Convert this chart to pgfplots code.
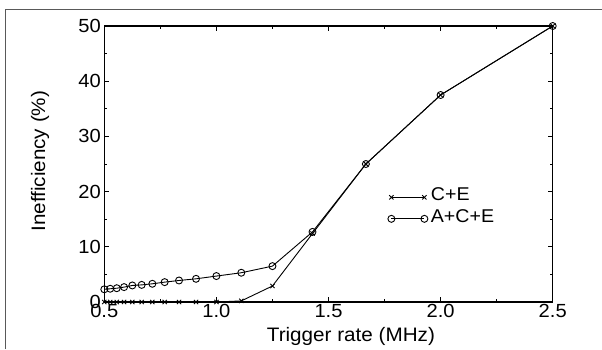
\documentclass[border=0pt]{standalone}
\usepackage{pgfplots}
\pgfplotsset{compat=1.18}
\usepackage{fontspec}
\setmainfont{Liberation Sans}[FakeStretch=1.06]

\begin{document}
\begin{tikzpicture}[x=1pt,y=1pt]
\path[use as bounding box] (0,0) rectangle (602,349);
\draw[line width=1.3pt, black!65] (5.5,0) -- (5.5,339.5) -- (602,339.5);
\begin{axis}[
  at={(104.3pt,47pt)}, anchor=south west,
  scale only axis, width=448.4pt, height=276pt,
  xmin=0.5, xmax=2.5, ymin=0, ymax=50,
  clip=false,
  xtick={0.5,1.0,1.5,2.0,2.5}, xticklabels={0.5,1.0,1.5,2.0,2.5},
  ytick={0,10,20,30,40,50}, yticklabels={0,10,20,30,40,50},
  minor x tick num=1, minor y tick num=1,
  tick align=inside,
  major tick length=5pt, minor tick length=3pt,
  axis line style={line width=1.3pt},
  every tick/.style={line width=1pt, black},
  tick label style={font=\fontsize{19}{19}\selectfont},
  xticklabel style={yshift=1pt},
  /pgf/number format/assume math mode=true,
  xlabel={Trigger rate (MHz)},
  ylabel={Inefficiency (\%)},
  label style={font=\fontsize{19.5}{19.5}\selectfont},
  xlabel style={at={(axis description cs:0.55,0)}, anchor=base, yshift=-39pt},
  ylabel style={at={(axis description cs:-0.132,0.51)}, anchor=base},
  legend image code/.code={\draw[#1] plot coordinates {(0pt,0pt) (33pt,0pt)};},
  legend style={draw=none, fill=none, at={(axis description cs:0.632,0.418)}, anchor=north west,
    inner sep=0pt, row sep=0.5pt, font=\fontsize{18.5}{18.5}\selectfont,
    nodes={inner sep=3pt, text height=11pt, text depth=4pt}},
  legend cell align=left,
]
\addplot[black, line width=0.9pt, mark=x, mark size=3pt] coordinates {
(0.5,0)(0.5263,0)(0.5556,0)(0.5882,0)(0.625,0)(0.6667,0)(0.7143,0)(0.7692,0)
(0.8333,0)(0.9091,0)(1.0,0)(1.1111,0.2)(1.25,2.9)(1.4286,12.4)(1.6667,25)(2.0,37.5)(2.5,50)};
\addlegendentry{C+E}
\addplot[black, line width=0.9pt, mark=o, mark size=3.5pt] coordinates {
(0.5,2.3)(0.5263,2.4)(0.5556,2.5)(0.5882,2.7)(0.625,3.0)(0.6667,3.1)(0.7143,3.3)(0.7692,3.6)
(0.8333,3.9)(0.9091,4.2)(1.0,4.7)(1.1111,5.3)(1.25,6.5)(1.4286,12.7)(1.6667,25)(2.0,37.5)(2.5,50)};
\addlegendentry{A+C+E}
\end{axis}
\end{tikzpicture}
\end{document}
